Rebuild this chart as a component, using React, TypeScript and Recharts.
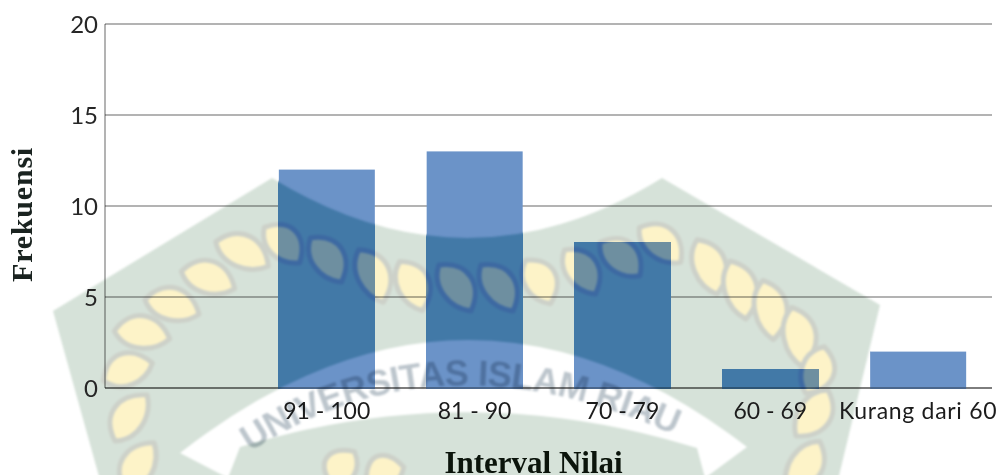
import React from 'react';
import { BarChart, Bar, XAxis, YAxis, CartesianGrid } from 'recharts';

const categories = ['', '91 - 100', '81 - 90', '70 - 79', '60 - 69', 'Kurang dari 60'];
const frequencies = [null, 12, 13, 8, 1, 2];
const yTicks = [0, 5, 10, 15, 20];

const chartData = categories.map((name, i) => ({ name, value: frequencies[i] }));

// watermark behind the chart: [cx, cy, angle, length]
const leaves = [
  [282, 245, 45, 50], [326, 260, 55, 54], [371, 276, 65, 58], [411, 286, 65, 54],
  [455, 288, 55, 56], [497, 288, 55, 56], [538, 282, 60, 50], [580, 272, 55, 54],
  [620, 259, 40, 52], [660, 245, 40, 54], [707, 267, 70, 58], [738, 290, 75, 60],
  [768, 310, 80, 60], [797, 337, 80, 60], [815, 370, 112, 50], [812, 413, 125, 56],
  [803, 465, 125, 58], [242, 254, 25, 58], [208, 280, 18, 56], [172, 307, 15, 56],
  [142, 335, 8, 56], [128, 372, -20, 52], [131, 418, -55, 56], [140, 467, -60, 56],
  [343, 468, -55, 40], [385, 474, -20, 40],
];

const BAR_BLUE = '#6b93c8';
const onWhite = { green: '#d6e2d9', leaf: '#fdf3c8', halo: '#cdd1c9', band: '#ffffff' };
const onBar = { green: '#4279a7', leaf: '#6e8fa0', halo: '#3d69a2', band: BAR_BLUE };

const leafPath = (l: number, w: number) =>
  `M${-l / 2} 0 C${-l / 4} ${-w * 0.85} ${l / 4} ${-w * 0.75} ${l / 2} 0 C${l / 4} ${w * 0.5} ${-l / 4} ${w * 0.6} ${-l / 2} 0Z`;

const Watermark = ({ colors }: { colors: typeof onWhite }) => (
  <g style={{ filter: 'blur(1.1px)' }}>
    <path
      d="M272 178 Q467 298 662 178 L880 305 L838 480 L100 480 L53 311 Z"
      fill={colors.green}
    />
    {leaves.map(([x, y, a, l], i) => (
      <g key={i} transform={`translate(${x} ${y}) rotate(${a})`}>
        <path d={leafPath(l, 32)} fill={colors.leaf} stroke={colors.halo} strokeWidth={5} strokeLinejoin="round" />
      </g>
    ))}
    <path
      d="M180 453 Q465 230 747 447 L705 478 L697 448 Q468 377 240 447 L228 478 Z"
      fill={colors.band}
    />
  </g>
);

const WatermarkedBar = (props: any) => {
  const { x, y, width, height, index } = props;
  const clipId = `bar-clip-${index}`;
  return (
    <g>
      <clipPath id={clipId}>
        <rect x={x} y={y} width={width} height={height + 1} />
      </clipPath>
      <rect x={x} y={y} width={width} height={height + 1} fill={BAR_BLUE} />
      <g clipPath={`url(#${clipId})`}>
        <Watermark colors={onBar} />
      </g>
    </g>
  );
};

const CategoryTick = ({ x, y, payload }: any) => (
  <text
    x={x}
    y={y}
    dy={17}
    textAnchor="middle"
    fill="#1c1c1c"
    fontSize={23}
    fontFamily="Lato"
    letterSpacing={payload.value.length > 10 ? 0.7 : 0}
  >
    {payload.value}
  </text>
);

export default function App() {
  const axisLine = { stroke: '#000', strokeOpacity: 0.4, strokeWidth: 1.5 };
  return (
    <div style={{ position: 'absolute', left: 0, top: 0, width: 999, height: 475, overflow: 'hidden', background: '#fff' }}>
      <svg width={999} height={475} style={{ position: 'absolute', left: 0, top: 0 }}>
        <Watermark colors={onWhite} />
      </svg>
      <div style={{ position: 'absolute', left: 0, top: 0 }}>
        <BarChart width={999} height={475} data={chartData} margin={{ top: 24, right: 7, bottom: 0, left: 0 }}>
          <CartesianGrid vertical={false} stroke="#000" strokeOpacity={0.4} strokeWidth={1.5} />
          <XAxis
            dataKey="name"
            height={87}
            interval={0}
            axisLine={axisLine}
            tickLine={false}
            tickMargin={8}
            tick={CategoryTick}
            label={{
              value: 'Interval Nilai',
              position: 'insideBottom',
              offset: 2,
              dx: -15,
              style: { fontFamily: 'Liberation Serif', fontWeight: 700, fontSize: 31, fill: '#0b140b' },
            }}
          />
          <YAxis
            width={105}
            domain={[0, 20]}
            ticks={yTicks}
            axisLine={axisLine}
            tickLine={false}
            tickMargin={1}
            tick={{ fill: '#262626', fontSize: 24, fontFamily: 'Lato' }}
            label={{
              value: 'Frekuensi',
              angle: -90,
              position: 'insideLeft',
              offset: 21,
              dy: 76,
              style: { fontFamily: 'Liberation Serif', fontWeight: 700, fontSize: 30, fill: '#1a2320', letterSpacing: 0.8 },
            }}
          />
          <Bar dataKey="value" barSize={96} isAnimationActive={false} shape={WatermarkedBar} />
        </BarChart>
      </div>
      <svg width={999} height={475} style={{ position: 'absolute', left: 0, top: 0, mixBlendMode: 'multiply', pointerEvents: 'none' }}>
        <path id="wm-arc" d="M250 452 Q470 306 760 480" fill="none" />
        <text fontFamily="Liberation Sans" fontWeight={700} fontSize={36} letterSpacing={-0.7} fill="#bcc5cc" style={{ filter: 'blur(0.8px)' }}>
          <textPath href="#wm-arc">UNIVERSITAS ISLAM RIAU</textPath>
        </text>
      </svg>
    </div>
  );
}
